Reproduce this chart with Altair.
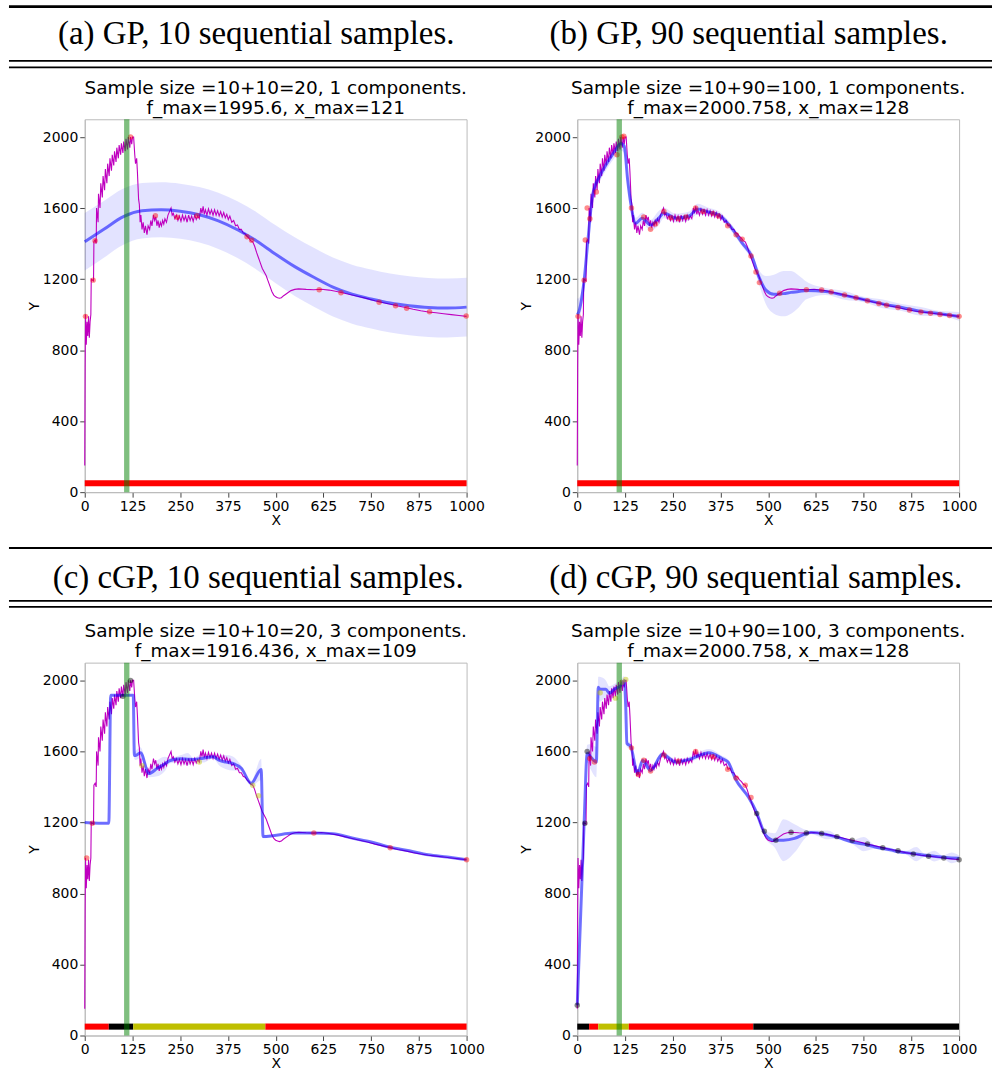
import altair as alt
import pandas as pd

# ---------------- data ----------------
TRUE_X = [0, 1, 2, 4, 6, 8, 10, 12, 14, 16, 17, 20, 23, 24, 27, 30, 31, 33, 35, 36, 40, 42, 46, 48, 52, 54, 58,
          60, 64, 66, 70, 72, 76, 78, 82, 84, 88, 90, 94, 96, 100, 102, 106, 108, 112, 114, 118, 120, 123, 125,
          128, 131, 133, 136, 138, 141, 143, 145, 147, 150, 153, 156, 159, 163, 166, 170, 173, 176, 180, 183,
          186, 189, 192, 195, 198, 201, 204, 207, 210, 214, 218, 222, 226, 229, 232, 236, 240, 244, 248, 252,
          256, 260, 264, 268, 272, 276, 280, 284, 288, 292, 296, 300, 304, 307, 310, 313, 316, 320, 324, 328,
          332, 336, 340, 344, 348, 352, 356, 360, 364, 368, 372, 376, 380, 385, 390, 395, 400, 405, 410, 415,
          420, 425, 430, 435, 440, 445, 450, 455, 460, 465, 470, 475, 480, 485, 490, 495, 500, 505, 510, 515,
          520, 530, 540, 550, 560, 580, 600, 620, 640, 660, 680, 700, 720, 740, 760, 780, 800, 820, 840, 860,
          880, 900, 920, 940, 960, 980, 1000]
TRUE_Y = [150, 700, 1000, 830, 960, 880, 990, 870, 960, 1000, 1200, 1195, 1190, 1410, 1420, 1400, 1600, 1560,
          1520, 1680, 1600, 1740, 1660, 1780, 1700, 1820, 1740, 1850, 1780, 1880, 1810, 1900, 1840, 1920, 1860,
          1940, 1880, 1955, 1900, 1965, 1910, 1975, 1920, 1990, 1930, 2000, 1940, 2000, 1960, 2000, 2000, 1900,
          1850, 1880, 1800, 1650, 1620, 1520, 1560, 1480, 1520, 1460, 1500, 1450, 1500, 1480, 1530, 1500, 1560,
          1530, 1550, 1500, 1530, 1490, 1520, 1500, 1530, 1510, 1540, 1520, 1560, 1580, 1600, 1560, 1570, 1540,
          1560, 1530, 1555, 1525, 1560, 1530, 1555, 1520, 1560, 1530, 1555, 1525, 1560, 1535, 1555, 1540, 1600,
          1570, 1610, 1565, 1590, 1560, 1595, 1565, 1590, 1560, 1590, 1560, 1585, 1555, 1580, 1550, 1575, 1545,
          1565, 1535, 1555, 1520, 1530, 1500, 1505, 1480, 1480, 1460, 1455, 1440, 1430, 1415, 1410, 1385, 1350,
          1320, 1290, 1260, 1240, 1220, 1190, 1160, 1130, 1110, 1100, 1095, 1092, 1095, 1105, 1120, 1135, 1142,
          1145, 1142, 1140, 1143, 1138, 1130, 1120, 1110, 1100, 1090, 1078, 1068, 1058, 1048, 1040, 1030, 1022,
          1015, 1010, 1005, 1000, 995, 990]

# (a) GP, 10 samples
A_X = [0, 50, 100, 150, 200, 250, 300, 350, 400, 450, 500, 550, 600, 650, 700, 750, 800, 850, 900, 950, 1000]
A_MEAN = [1410, 1480, 1550, 1585, 1590, 1582, 1562, 1528, 1478, 1415, 1340, 1270, 1210, 1155, 1115, 1088,
          1065, 1050, 1040, 1037, 1042]
A_HW = [162, 160, 158, 156, 155, 155, 156, 158, 160, 162, 163, 165, 166, 166, 166, 166, 166, 166, 166, 166, 166]
A_DOT_X = [2, 22, 27, 120, 185, 242, 294, 425, 437, 614, 671, 771, 814, 843, 903, 999]
A_DOT_Y = [990, 1194, 1416, 2000, 1557, 1548, 1557, 1438, 1419, 1140, 1123, 1070, 1050, 1036, 1016, 992]
A_DOT_C = ["red"] * 16
A_SEG_X0 = [0]
A_SEG_X1 = [1000]
A_SEG_C = ["red"]

# (b) GP, 90 samples
B_X = [0, 3, 18, 28, 41, 58, 75, 97, 114, 123, 132, 140, 153, 170, 192, 214, 227, 258, 293, 315, 340, 372, 398,
       432, 458, 476, 494, 515, 540, 560, 580, 600, 650, 700, 750, 800, 850, 900, 950, 1000]
B_MEAN = [1000, 1010, 1194, 1420, 1683, 1776, 1842, 1916, 1964, 1948, 1758, 1628, 1515, 1543, 1504, 1545, 1572,
          1543, 1555, 1594, 1580, 1560, 1504, 1403, 1324, 1211, 1138, 1115, 1118, 1125, 1130, 1136, 1130, 1108,
          1085, 1060, 1040, 1018, 1005, 990]
B_HW = [90, 80, 40, 30, 30, 30, 30, 35, 40, 40, 40, 40, 30, 30, 30, 40, 30, 25, 25, 30, 25, 20, 20, 20, 25, 40,
        80, 110, 128, 120, 90, 50, 20, 25, 15, 25, 20, 25, 15, 25]
B_DOT_X = [2, 18, 21, 26, 33, 50, 104, 117, 122, 142, 174, 192, 205, 227, 245, 265, 285, 310, 330, 355, 370, 394,
           416, 432, 455, 468, 477, 530, 600, 640, 665, 700, 730, 760, 790, 810, 840, 870, 900, 925, 950, 975, 1000]
B_DOT_Y = [990, 1194, 1420, 1600, 1540, 1690, 1900, 2000, 2005, 1600, 1550, 1480, 1510, 1580, 1545, 1540, 1550,
           1600, 1580, 1570, 1555, 1500, 1450, 1425, 1330, 1240, 1180, 1120, 1140, 1138, 1127, 1110, 1095, 1078,
           1063, 1053, 1040, 1026, 1015, 1008, 1000, 995, 990]
B_DOT_C = ["red"] * 43
B_SEG_X0 = [0]
B_SEG_X1 = [1000]
B_SEG_C = ["red"]

# (c) cGP, 10 samples
C_X = [0, 63, 68, 127, 130, 133, 146, 168, 190, 210, 224, 250, 270, 284, 310, 336, 353, 370, 388, 410, 436, 462,
       467, 493, 545, 600, 650, 700, 750, 800, 850, 900, 950, 1000]
C_MEAN = [1200, 1195, 1916, 1916, 1577, 1577, 1593, 1475, 1505, 1530, 1549, 1558, 1556, 1555, 1562, 1570, 1549,
          1540, 1532, 1505, 1420, 1498, 1121, 1125, 1140, 1141, 1137, 1112, 1090, 1060, 1040, 1018, 1005, 990]
C_HW = [3, 3, 3, 3, 20, 25, 30, 20, 45, 40, 15, 20, 35, 10, 25, 10, 30, 40, 40, 15, 15, 60, 10, 5, 3, 3, 3, 3, 3,
        3, 3, 3, 3, 3]
C_DOT_X = [5, 20, 100, 120, 150, 300, 440, 455, 600, 800, 1000]
C_DOT_Y = [1000, 1195, 1910, 2000, 1520, 1540, 1410, 1350, 1140, 1058, 990]
C_DOT_C = ["red", "red", "black", "black", "#bfbf00", "#bfbf00", "#bfbf00", "#bfbf00", "red", "red", "red"]
C_SEG_X0 = [0, 63, 127, 473]
C_SEG_X1 = [63, 127, 473, 1000]
C_SEG_C = ["red", "black", "#bfbf00", "red"]

# (d) cGP, 90 samples
D_X = [0, 18, 26, 35, 50, 55, 59, 75, 84, 97, 114, 123, 127, 130, 140, 158, 171, 192, 223, 258, 293, 345, 379,
       395, 414, 449, 467, 494, 517, 540, 569, 600, 612, 656, 682, 720, 750, 780, 820, 846, 860, 888, 910, 935,
       958, 980, 1000]
D_MEAN = [170, 1200, 1588, 1570, 1540, 1961, 1950, 1950, 1927, 1950, 1972, 2000, 1848, 1645, 1628, 1476, 1549,
          1493, 1584, 1540, 1555, 1593, 1560, 1540, 1446, 1340, 1268, 1127, 1099, 1100, 1110, 1138, 1144, 1130,
          1116, 1090, 1078, 1062, 1046, 1033, 1030, 1022, 1015, 1010, 1004, 1000, 999]
D_HW = [40, 40, 50, 70, 85, 60, 70, 50, 40, 30, 30, 25, 20, 20, 15, 15, 15, 15, 15, 15, 15, 20, 15, 15, 10, 10,
        15, 20, 40, 118, 80, 20, 10, 25, 10, 12, 40, 10, 12, 10, 10, 40, 10, 30, 10, 30, 15]
D_DOT_X = [0, 20, 26, 33, 45, 60, 100, 117, 127, 142, 160, 174, 192, 227, 265, 310, 355, 394, 416, 440, 455, 470,
           490, 520, 560, 600, 640, 680, 720, 760, 800, 840, 880, 920, 960, 1000]
D_DOT_Y = [170, 1195, 1600, 1560, 1540, 1930, 1900, 1990, 2005, 1620, 1470, 1550, 1490, 1580, 1545, 1600, 1570,
           1500, 1450, 1410, 1340, 1250, 1150, 1100, 1145, 1140, 1138, 1120, 1100, 1078, 1058, 1040, 1022, 1010,
           1000, 990]
D_DOT_C = ["black", "black", "black", "red", "red", "#bfbf00", "#bfbf00", "#bfbf00", "#bfbf00", "red", "red", "red",
           "red", "red", "red", "red", "red", "red", "red", "red", "red", "black", "black", "black", "black",
           "black", "black", "black", "black", "black", "black", "black", "black", "black", "black", "black"]
D_SEG_X0 = [0, 31, 55, 135, 461]
D_SEG_X1 = [31, 55, 135, 461, 1000]
D_SEG_C = ["black", "red", "#bfbf00", "red", "black"]

GREEN_X0 = [103]
GREEN_X1 = [117]
STRIP_Y0 = 33
STRIP_Y1 = 67

X_TICKS = [0, 125, 250, 375, 500, 625, 750, 875, 1000]
Y_TICKS = [0, 400, 800, 1200, 1600, 2000]
Y_MAX = 2100

TITLES = [
    ["Sample size =10+10=20, 1 components.", "f_max=1995.6, x_max=121"],
    ["Sample size =10+90=100, 1 components.", "f_max=2000.758, x_max=128"],
    ["Sample size =10+10=20, 3 components.", "f_max=1916.436, x_max=109"],
    ["Sample size =10+90=100, 3 components.", "f_max=2000.758, x_max=128"],
]
CAPTIONS = ["(a) GP, 10 sequential samples.", "(b) GP, 90 sequential samples.",
            "(c) cGP, 10 sequential samples.", "(d) cGP, 90 sequential samples."]

FONT = "DejaVu Sans"
PW, PH = 383, 374


def xenc(field):
    return alt.X(f"{field}:Q", scale=alt.Scale(domain=[0, 1000], nice=False, zero=False),
                 axis=alt.Axis(values=X_TICKS, title="X", format="d", labelFlush=False, labelOverlap=False,
                               titlePadding=0))


def yenc(field):
    return alt.Y(f"{field}:Q", scale=alt.Scale(domain=[0, Y_MAX], nice=False, zero=False),
                 axis=alt.Axis(values=Y_TICKS, title="Y", format="d", labelFlush=False, labelOverlap=False,
                               titlePadding=1))


true_df = pd.DataFrame({"x": TRUE_X, "y": TRUE_Y})
green_df = pd.DataFrame({"x0": GREEN_X0, "x1": GREEN_X1, "y0": [0], "y1": [Y_MAX]})


def panel(title, mx, my, hw, dx, dy, dc, sx0, sx1, sc, spacer):
    mean_df = pd.DataFrame({"x": mx, "y": my,
                            "lo": [m - h for m, h in zip(my, hw)],
                            "hi": [m + h for m, h in zip(my, hw)]})
    dots_df = pd.DataFrame({"x": dx, "y": dy, "c": dc})
    seg_df = pd.DataFrame({"x0": sx0, "x1": sx1, "c": sc,
                           "y0": [STRIP_Y0] * len(sx0), "y1": [STRIP_Y1] * len(sx0)})
    band = alt.Chart(mean_df).mark_area(color="#0000ff", opacity=0.11, interpolate="monotone").encode(
        x=xenc("x"), y=yenc("lo"), y2="hi")
    truth = alt.Chart(true_df).mark_line(color="#bf00bf", strokeWidth=1.1).encode(x=xenc("x"), y=yenc("y"))
    mean = alt.Chart(mean_df).mark_line(color="#0000ff", opacity=0.55, strokeWidth=3,
                                        interpolate="monotone").encode(x=xenc("x"), y=yenc("y"))
    dots = alt.Chart(dots_df).mark_circle(size=30, opacity=0.45).encode(
        x=xenc("x"), y=yenc("y"), color=alt.Color("c:N", scale=None))
    strip = alt.Chart(seg_df).mark_rect().encode(
        x=xenc("x0"), x2="x1", y=yenc("y0"), y2="y1", color=alt.Color("c:N", scale=None))
    green = alt.Chart(green_df).mark_rect(color="green", opacity=0.5).encode(
        x=xenc("x0"), x2="x1", y=yenc("y0"), y2="y1")
    layers = [band, truth, mean, dots, strip, green]
    if spacer:
        # invisible element that fixes the left margin of the left-hand panels
        sp = alt.Chart(pd.DataFrame({"k": [0]})).mark_text(text=" ", opacity=0, align="left").encode(
            x=alt.value(-84), y=alt.value(187))
        layers.append(sp)
    return alt.layer(*layers).properties(
        width=PW, height=PH,
        title=alt.TitleParams(text=title, font=FONT, fontSize=18.5, fontWeight="normal", offset=2,
                              lineHeight=20, anchor="middle", color="black"))


def header(h, rules, texts):
    # header origin sits on the left plot's origin (x = 84 on the page)
    base = alt.Chart(pd.DataFrame({"k": [0]}))
    layers = []
    for (y, w) in rules:
        layers.append(base.mark_rule(color="black", strokeWidth=w).encode(
            x=alt.value(-76), x2=alt.value(910), y=alt.value(y)))
    for (x, y, t) in texts:
        layers.append(base.mark_text(font="Liberation Serif", fontSize=33, color="black", align="center",
                                     baseline="middle").encode(x=alt.value(x), y=alt.value(y), text=alt.value(t)))
    return alt.layer(*layers).properties(width=826, height=h, view=alt.ViewBackground(stroke="transparent"))


h1 = header(75, [(4, 2.6), (58.5, 1.7), (65, 1.7)], [(172, 32, CAPTIONS[0]), (666, 32, CAPTIONS[1])])
h2 = header(92, [(19, 2.2), (72, 1.7), (78, 1.7)], [(174, 49, CAPTIONS[2]), (673, 49, CAPTIONS[3])])

pa = panel(TITLES[0], A_X, A_MEAN, A_HW, A_DOT_X, A_DOT_Y, A_DOT_C, A_SEG_X0, A_SEG_X1, A_SEG_C, True)
pb = panel(TITLES[1], B_X, B_MEAN, B_HW, B_DOT_X, B_DOT_Y, B_DOT_C, B_SEG_X0, B_SEG_X1, B_SEG_C, False)
pc = panel(TITLES[2], C_X, C_MEAN, C_HW, C_DOT_X, C_DOT_Y, C_DOT_C, C_SEG_X0, C_SEG_X1, C_SEG_C, True)
pdd = panel(TITLES[3], D_X, D_MEAN, D_HW, D_DOT_X, D_DOT_Y, D_DOT_C, D_SEG_X0, D_SEG_X1, D_SEG_C, False)

row1 = alt.hconcat(pa, pb, spacing=33)
row2 = alt.hconcat(pc, pdd, spacing=33)

chart = alt.vconcat(h1, row1, h2, row2, spacing=0).properties(
    padding={"left": 0, "top": 0, "right": 0, "bottom": 6}, background="white"
).configure_view(stroke="#bbbbbb", strokeWidth=1).configure_axis(
    labelFont=FONT, labelFontSize=14, labelColor="black", titleFont=FONT, titleFontSize=14,
    titleFontWeight="normal", titleColor="black", tickSize=5, labelPadding=2,
    domainColor="#bbbbbb", tickColor="#444444", grid=False
).configure_concat(spacing=0)

chart.save("out.html", embed_options={"renderer": "svg", "actions": False})
